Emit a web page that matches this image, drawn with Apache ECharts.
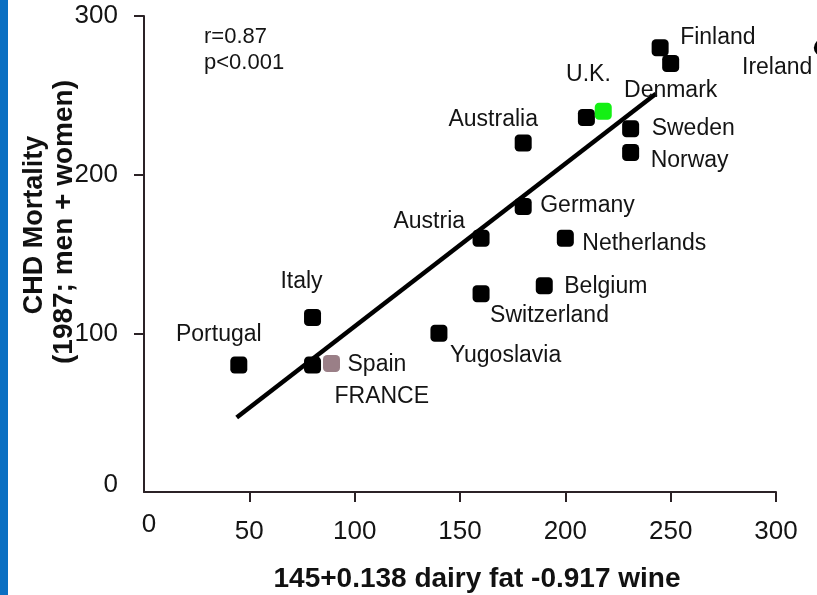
<!DOCTYPE html>
<html>
<head>
<meta charset="utf-8">
<script src="https://cdn.jsdelivr.net/npm/echarts@6.0.0/dist/echarts.min.js"></script>
<style>
  html, body { margin: 0; padding: 0; background: #fff; }
  #chart { width: 817px; height: 595px; }
</style>
</head>
<body>
<div id="chart"></div>
<script>
// Countries and their coordinates (x: dairy fat / wine score, y: CHD mortality)
const countries = ['Portugal', 'Italy', 'Spain', 'FRANCE', 'Yugoslavia', 'Switzerland', 'Austria',
  'Germany', 'Australia', 'Belgium', 'Netherlands', 'U.K.', '', 'Sweden', 'Norway',
  'Finland', 'Denmark', 'Ireland'];
const scoreValues = [45, 80, 80, 89, 140, 160, 160, 180, 180, 190, 200, 210, 218, 231, 231, 245, 250, 322];
const mortalityValues = [80, 110, 80, 81, 100, 125, 160, 180, 220, 130, 160, 236, 240, 229, 214, 280, 270, 280];

// Fitted regression line end points
const fitX = [44, 243];
const fitY = [47, 251];

// Axis ticks
const xTicks = [0, 50, 100, 150, 200, 250, 300];
const yTicks = [0, 100, 200, 300];

const stats = ['r=0.87', 'p<0.001'];

const FONT = '"Liberation Sans", Arial, sans-serif';
const AXIS_COLOR = '#2b2226';
const TEXT_COLOR = '#141414';

// Label placement and marker styling per country
const labelStyle = {
  'Portugal':    { align: 'center', offset: [-20, -30] },
  'Italy':       { align: 'center', offset: [-11, -36] },
  'Spain':       { align: 'left',   offset: [35, 0] },
  'FRANCE':      { align: 'left',   offset: [3, 33] },
  'Yugoslavia':  { align: 'left',   offset: [11, 22] },
  'Switzerland': { align: 'left',   offset: [9, 22] },
  'Austria':     { align: 'right',  offset: [-16, -16] },
  'Germany':     { align: 'left',   offset: [17, -1] },
  'Australia':   { align: 'center', offset: [-30, -23] },
  'Belgium':     { align: 'left',   offset: [20, 1] },
  'Netherlands': { align: 'left',   offset: [17, 6] },
  'U.K.':        { align: 'center', offset: [2, -43] },
  'Sweden':      { align: 'left',   offset: [21, 0] },
  'Norway':      { align: 'left',   offset: [20, 8] },
  'Finland':     { align: 'left',   offset: [20, -10] },
  'Denmark':     { align: 'center', offset: [0, 27] },
  'Ireland':     { align: 'right',  offset: [-10, 20] }
};
const markerColor = { 'FRANCE': '#9a7f87', '': '#14f014' };

const points = countries.map((name, i) => {
  const ls = labelStyle[name];
  return {
    name: name,
    value: [scoreValues[i], mortalityValues[i]],
    symbol: name === 'Ireland' ? 'circle' : 'roundRect',
    itemStyle: { color: markerColor[name] || '#000', opacity: 1 },
    label: ls ? {
      show: true,
      position: 'inside',
      align: ls.align,
      verticalAlign: 'middle',
      offset: ls.offset,
      formatter: name
    } : { show: false }
  };
});

const chart = echarts.init(document.getElementById('chart'), null, { renderer: 'canvas' });

chart.setOption({
  backgroundColor: '#fff',
  animation: false,
  textStyle: { fontFamily: FONT },
  grid: { left: 144, right: 41, top: 16, bottom: 103, containLabel: false },
  xAxis: {
    type: 'value',
    min: xTicks[0],
    max: xTicks[xTicks.length - 1],
    interval: 50,
    axisLine: { show: true, onZero: false, lineStyle: { color: AXIS_COLOR, width: 2 } },
    axisTick: { show: true, length: 10, customValues: xTicks.slice(1), lineStyle: { color: AXIS_COLOR, width: 2 } },
    splitLine: { show: false },
    axisLabel: {
      margin: 27,
      fontSize: 26,
      color: TEXT_COLOR,
      fontFamily: FONT,
      formatter: v => v === 0 ? '{z|0}' : String(v),
      rich: { z: { fontSize: 26, fontFamily: FONT, color: TEXT_COLOR, lineHeight: 12, padding: [0, 0, 0, 10] } }
    }
  },
  yAxis: {
    type: 'value',
    min: yTicks[0],
    max: yTicks[yTicks.length - 1],
    interval: 100,
    axisLine: { show: true, onZero: false, lineStyle: { color: AXIS_COLOR, width: 2 } },
    axisTick: { show: true, length: 10, customValues: yTicks.slice(1), lineStyle: { color: AXIS_COLOR, width: 2 } },
    splitLine: { show: false },
    axisLabel: {
      margin: 26,
      fontSize: 26,
      color: TEXT_COLOR,
      fontFamily: FONT,
      formatter: v => v === 0 ? '{z|0}' : String(v),
      rich: { z: { fontSize: 26, fontFamily: FONT, color: TEXT_COLOR, padding: [0, 0, 14, 0] } }
    }
  },
  series: [
    {
      type: 'line',
      data: fitX.map((x, i) => [x, fitY[i]]),
      showSymbol: false,
      symbol: 'none',
      lineStyle: { color: '#000', width: 4.5 },
      z: 2
    },
    {
      type: 'scatter',
      data: points,
      symbolSize: 17,
      clip: false,
      itemStyle: { opacity: 1 },
      label: {
        fontSize: 23,
        fontFamily: FONT,
        color: TEXT_COLOR
      },
      emphasis: { disabled: true },
      z: 3
    }
  ],
  graphic: [
    { type: 'rect', shape: { x: 0, y: 0, width: 8, height: 595 }, style: { fill: '#0a6fc2' }, z: 10 },
    { type: 'text', x: 204, y: 37, style: { text: stats[0], font: '22px ' + FONT, fill: TEXT_COLOR, textAlign: 'left', textVerticalAlign: 'middle' } },
    { type: 'text', x: 204, y: 63, style: { text: stats[1], font: '22px ' + FONT, fill: TEXT_COLOR, textAlign: 'left', textVerticalAlign: 'middle' } },
    { type: 'text', x: 477, y: 579, style: { text: '145+0.138 dairy fat -0.917 wine', font: 'bold 28px ' + FONT, fill: '#111', textAlign: 'center', textVerticalAlign: 'middle' } },
    { type: 'text', x: 35, y: 225, rotation: Math.PI / 2, style: { text: 'CHD Mortality', font: 'bold 27px ' + FONT, fill: '#111', textAlign: 'center', textVerticalAlign: 'middle' } },
    { type: 'text', x: 64, y: 222, rotation: Math.PI / 2, style: { text: '(1987; men + women)', font: 'bold 28px ' + FONT, fill: '#111', textAlign: 'center', textVerticalAlign: 'middle' } }
  ]
});
</script>
</body>
</html>
